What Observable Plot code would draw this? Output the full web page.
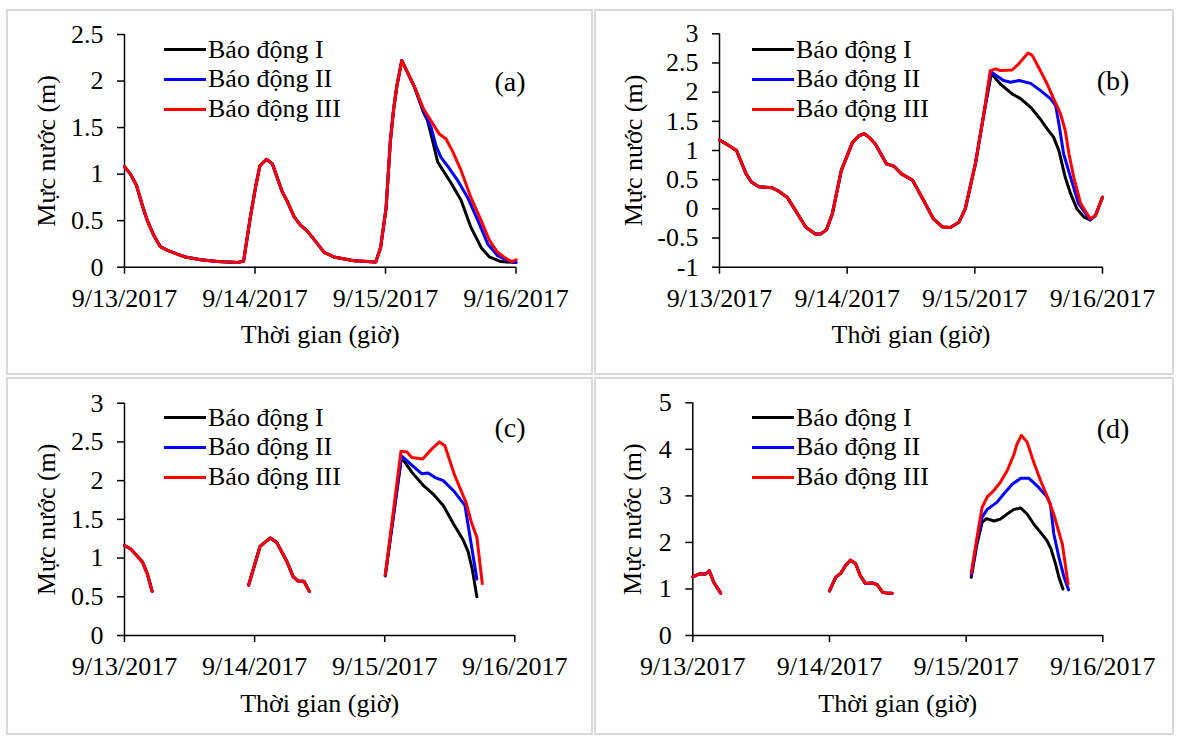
<!DOCTYPE html>
<html><head><meta charset="utf-8">
<script src="https://cdn.jsdelivr.net/npm/d3@7"></script>
<script src="https://cdn.jsdelivr.net/npm/@observablehq/plot@0.6"></script>
<style>
html,body{margin:0;padding:0;background:#fff;}
#root{position:relative;width:1177px;height:736px;overflow:hidden;font-family:"Liberation Serif","Times New Roman",serif;color:#000;}
.panel{position:absolute;box-sizing:border-box;border:2px solid #d9d9d9;background:#fff;}
.panel svg{position:absolute;left:0;top:0;}
.legrow{position:absolute;display:flex;align-items:center;white-space:nowrap;font-size:26px;line-height:1;transform:translateY(-50%);}
.swatch{width:42px;height:0;border-top:3px solid;margin-right:2px;}
.tag{position:absolute;font-size:28px;line-height:1;white-space:nowrap;transform:translate(-50%,-50%);}
</style></head><body><div id="root"></div>
<script>
// ---------- data ----------
const seriesNames = ["Báo động I", "Báo động II", "Báo động III"];
const seriesColors = ["#000000", "#0000ff", "#ff0000"];
const dateTicks = ["2017-09-13", "2017-09-14", "2017-09-15", "2017-09-16"];
const xTitle = "Thời gian (giờ)";
const yTitle = "Mực nước (m)";
const panelTags = ["(a)", "(b)", "(c)", "(d)"];

const aYTicks = [0, 0.5, 1, 1.5, 2, 2.5];
const bYTicks = [-1, -0.5, 0, 0.5, 1, 1.5, 2, 2.5, 3];
const cYTicks = [0, 0.5, 1, 1.5, 2, 2.5, 3];
const dYTicks = [0, 1, 2, 3, 4, 5];

// [hour since 9/13/2017 00:00, water level (m)]
const aShared = [[[0,1.08],[1.1,1.00],[2.2,0.88],[3.3,0.66],[4.2,0.50],[5.4,0.34],[6.6,0.22],[7.9,0.18],[9.7,0.14],[11.2,0.11],[14,0.08],[17.1,0.06],[20.8,0.05],[21.9,0.065],[23.1,0.52],[24.1,0.86],[24.9,1.09],[26.1,1.16],[27.2,1.11],[29,0.81],[30,0.70],[31.2,0.54],[32.4,0.45],[33.6,0.39],[35.5,0.25],[36.7,0.16],[38.5,0.11],[42.2,0.07],[46.2,0.055],[47.1,0.21],[48.1,0.63],[48.9,1.36],[49.5,1.7],[50.1,1.95],[51,2.22],[53.3,1.94]]];
const aI   = [[55,1.66],[55.7,1.58],[56.7,1.35],[57.6,1.13],[58.8,1.02],[60,0.91],[61.9,0.72],[63.7,0.43],[65.6,0.21],[67.1,0.11],[69.2,0.06],[72,0.05]];
const aII  = [[55,1.68],[56.4,1.50],[57.3,1.30],[58.2,1.18],[59.5,1.08],[61.3,0.93],[63.1,0.75],[65,0.50],[66.8,0.25],[68.6,0.125],[70.5,0.07],[72,0.05]];
const aIII = [[55,1.70],[56.5,1.56],[57.9,1.43],[59.1,1.38],[60.3,1.25],[61.9,1.04],[63.7,0.75],[65.6,0.50],[67.1,0.29],[68.6,0.16],[70.5,0.08],[71.3,0.06],[72,0.08]];

const bShared = [[[0,1.18],[1.5,1.1],[3.2,1.0],[5,0.6],[6,0.46],[7.4,0.38],[9.9,0.36],[11,0.31],[12.7,0.2],[14.1,0.0],[16.2,-0.31],[18,-0.43],[19,-0.43],[20.1,-0.36],[21.2,-0.09],[22.9,0.66],[25,1.14],[26.2,1.25],[27.2,1.29],[28.2,1.22],[29.3,1.11],[31.4,0.77],[32.8,0.73],[34.2,0.6],[36.3,0.49],[38.4,0.14],[40.2,-0.17],[41.9,-0.31],[43.4,-0.32],[45,-0.23],[46.2,0.0],[48.1,0.77],[49.7,1.63]]];
const bI   = [[51.1,2.32],[52.8,2.14],[55,1.97],[56.6,1.89],[58.5,1.74],[60.3,1.54],[61.6,1.37],[62.8,1.23],[63.8,1.0],[65,0.54],[66,0.26],[67.2,0.0],[68.5,-0.14],[69.7,-0.19],[70.7,-0.11],[72,0.2]];
const bII  = [[51,2.35],[53.4,2.2],[54.7,2.17],[56.3,2.2],[58.5,2.15],[60.3,2.03],[62.2,1.89],[63.2,1.77],[63.8,1.46],[64.7,0.94],[66,0.54],[67.5,0.09],[69.7,-0.19],[70.7,-0.11],[72,0.2]];
const bIII = [[50.9,2.37],[51.9,2.40],[52.8,2.37],[55,2.38],[56.3,2.49],[58,2.67],[58.8,2.63],[60.3,2.37],[61.6,2.14],[62.8,1.89],[64.1,1.63],[65,1.34],[65.7,0.94],[66.6,0.54],[67.9,0.09],[69.7,-0.17],[70.7,-0.11],[72,0.2]];

const cShared = [
  [[0,1.16],[1.1,1.12],[2.3,1.03],[3.3,0.95],[4.2,0.80],[5.1,0.57]],
  [[22.9,0.65],[25,1.15],[26.9,1.26],[28.1,1.2],[30,0.95],[31.1,0.76],[32.1,0.70],[33.1,0.70],[34.1,0.57]]
];
const cI   = [[48.1,0.77],[51.1,2.30],[53,2.11],[55.1,1.94],[56.9,1.83],[58.8,1.68],[60.7,1.44],[62.5,1.23],[63.4,1.08],[64.2,0.84],[65,0.5]];
const cII  = [[48.1,0.77],[51.1,2.32],[53,2.2],[54.8,2.09],[56,2.10],[57.3,2.04],[58.8,2.0],[60.7,1.87],[62.8,1.68],[65,0.73]];
const cIII = [[48.1,0.78],[51,2.38],[52.1,2.37],[53,2.30],[55,2.28],[56.7,2.41],[58.1,2.50],[59.1,2.45],[60.9,2.07],[63,1.72],[64,1.46],[65,1.27],[66,0.67]];

const dShared = [
  [[0,1.26],[1.05,1.32],[2.2,1.32],[2.9,1.39],[3.7,1.14],[4.9,0.91]],
  [[24,0.96],[25.1,1.25],[26,1.34],[26.8,1.5],[27.7,1.62],[28.6,1.54],[29.4,1.29],[30.3,1.12],[31.5,1.13],[32.4,1.09],[33.3,0.93],[34.1,0.91],[35,0.91]]
];
const dI   = [[48.9,1.25],[49.9,1.96],[50.8,2.43],[51.6,2.51],[52.9,2.46],[54,2.5],[55.2,2.61],[56.4,2.71],[57.6,2.74],[58.7,2.61],[59.9,2.39],[61.1,2.21],[62.2,2.04],[62.9,1.86],[63.7,1.54],[64.3,1.25],[65,1.0]];
const dII  = [[48.9,1.29],[49.9,2.04],[50.8,2.54],[51.7,2.71],[53.4,2.86],[54.6,3.04],[56.1,3.25],[57.6,3.38],[59,3.38],[60.5,3.21],[62.2,2.98],[62.8,2.82],[63.4,2.18],[64.3,1.68],[65.2,1.25],[66,0.98]];
const dIII = [[48.9,1.34],[49.9,2.1],[50.8,2.75],[51.7,2.98],[52.9,3.12],[54,3.29],[55.2,3.54],[56.4,3.89],[56.9,4.1],[57.7,4.3],[58.7,4.16],[59.9,3.71],[61.1,3.32],[62.2,3.0],[63.4,2.6],[64.9,1.96],[65.9,1.11]];

// ---------- build ----------
const t0 = Date.UTC(2017, 8, 13);
const toDate = h => new Date(t0 + h * 3600000);
const xDates = dateTicks.map(d => new Date(d + "T00:00:00Z"));
const fmt = d3.utcFormat("%-m/%-d/%Y");

function buildRows(sharedSegs, tails, joinTail) {
  const rows = [];
  seriesNames.forEach((name, i) => {
    sharedSegs.forEach((seg, s) => {
      const pts = (joinTail && s === sharedSegs.length - 1) ? seg.concat(tails[i]) : seg;
      pts.forEach(([h, v]) => rows.push({series: name, seg: s, t: toDate(h), v}));
    });
    if (!joinTail) tails[i].forEach(([h, v]) => rows.push({series: name, seg: sharedSegs.length, t: toDate(h), v}));
  });
  return rows;
}

const panels = [
  {tag: panelTags[0], box: [6, 9, 587, 366], m: [116, 75.5, 23, 106.3], yTicks: aYTicks, yOff: 88, xOff: 76, tagPos: [502, 70.7],
   rows: buildRows(aShared, [aI, aII, aIII], true)},
  {tag: panelTags[1], box: [594, 9, 580, 366], m: [123, 70, 22.3, 106.3], yTicks: bYTicks, yOff: 96, xOff: 76, tagPos: [517, 70],
   rows: buildRows(bShared, [bI, bII, bIII], true)},
  {tag: panelTags[2], box: [6, 377, 587, 358], m: [116, 76.7, 23.7, 98], yTicks: cYTicks, yOff: 88, xOff: 76, tagPos: [502, 49.3],
   rows: buildRows(cShared, [cI, cII, cIII], false)},
  {tag: panelTags[3], box: [594, 377, 580, 358], m: [96.3, 69.7, 23.3, 98], yTicks: dYTicks, yOff: 70, xOff: 76, tagPos: [517, 50.3],
   rows: buildRows(dShared, [dI, dII, dIII], false)}
];

const root = document.getElementById("root");
const legendRowsY = [38.5, 68.3, 98];

panels.forEach(cfg => {
  const div = document.createElement("div");
  div.className = "panel";
  Object.assign(div.style, {left: cfg.box[0] + "px", top: cfg.box[1] + "px", width: cfg.box[2] + "px", height: cfg.box[3] + "px"});
  const w = cfg.box[2] - 4, h = cfg.box[3] - 4;
  const yt = cfg.yTicks;
  const chart = Plot.plot({
    width: w, height: h,
    marginLeft: cfg.m[0], marginRight: cfg.m[1], marginTop: cfg.m[2], marginBottom: cfg.m[3],
    style: {fontFamily: '"Liberation Serif", "Times New Roman", serif', fontSize: "26px", color: "#000", background: "transparent", overflow: "visible"},
    x: {type: "utc", domain: [xDates[0], xDates[xDates.length - 1]]},
    y: {domain: [yt[0], yt[yt.length - 1]]},
    color: {domain: seriesNames, range: seriesColors},
    marks: [
      Plot.axisY(yt, {tickSize: 7, tickPadding: 14, strokeWidth: 1.5, tickFormat: d => String(d),
        label: yTitle, labelAnchor: "center", labelArrow: "none", labelOffset: cfg.yOff}),
      Plot.axisX(xDates, {tickSize: 7, tickPadding: 14, strokeWidth: 1.5, tickFormat: fmt,
        label: xTitle, labelAnchor: "center", labelArrow: "none", labelOffset: cfg.xOff}),
      Plot.ruleX([xDates[0]], {stroke: "#000", strokeWidth: 1.5}),
      Plot.ruleY([yt[0]], {stroke: "#000", strokeWidth: 1.5}),
      Plot.line(cfg.rows, {x: "t", y: "v", z: d => d.series + "|" + d.seg, stroke: "series", strokeWidth: 3})
    ]
  });
  div.appendChild(chart);

  seriesNames.forEach((name, i) => {
    const row = document.createElement("div");
    row.className = "legrow";
    row.style.left = "156px";
    row.style.top = legendRowsY[i] + "px";
    const sw = document.createElement("span");
    sw.className = "swatch";
    sw.style.borderTopColor = seriesColors[i];
    const tx = document.createElement("span");
    tx.textContent = name;
    row.appendChild(sw); row.appendChild(tx);
    div.appendChild(row);
  });

  const tag = document.createElement("div");
  tag.className = "tag";
  tag.textContent = cfg.tag;
  tag.style.left = cfg.tagPos[0] + "px";
  tag.style.top = cfg.tagPos[1] + "px";
  div.appendChild(tag);

  root.appendChild(div);
});
</script></body></html>
